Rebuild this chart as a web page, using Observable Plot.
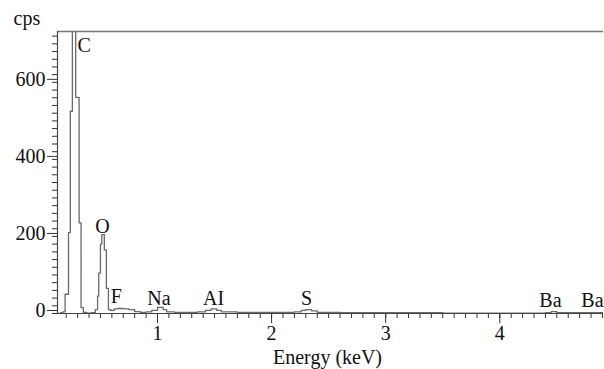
<!DOCTYPE html>
<html>
<head>
<meta charset="utf-8">
<script src="https://cdn.jsdelivr.net/npm/d3@7"></script>
<script src="https://cdn.jsdelivr.net/npm/@observablehq/plot@0.6"></script>
<style>
  html, body { margin: 0; padding: 0; background: #fff; }
  svg { display: block; }
</style>
</head>
<body>
<div id="chart"></div>
<script>
// Spectrum (bin left edge in keV, counts per second)
const energy = [0.12, 0.15, 0.17, 0.19, 0.22, 0.236, 0.254, 0.283, 0.313, 0.330, 0.350, 0.38, 0.42,
  0.455, 0.475, 0.485, 0.50, 0.512, 0.534, 0.552, 0.57, 0.59, 0.62, 0.65, 0.70, 0.75, 0.80, 0.85,
  0.90, 0.95, 1.00, 1.05, 1.08, 1.15, 1.25, 1.35, 1.42, 1.47, 1.52, 1.56, 1.7, 1.9, 2.1, 2.2,
  2.26, 2.30, 2.35, 2.40, 2.6, 3.0, 3.5, 4.0, 4.40, 4.45, 4.50, 4.92];
const cps = [0, 2, 4, 50, 210, 525, 1200, 561, 235, 15, 3, 1, 2,
  10, 45, 105, 180, 205, 165, 65, 10, 8, 12, 13, 12, 10, 5, 3,
  4, 8, 16, 10, 4, 3, 3, 4, 8, 12, 8, 4, 3, 3, 3, 4,
  8, 10, 7, 3, 2, 2, 1, 1, 2, 5, 2, 1];

// Peak labels
const peakLabels = ["C", "O", "F", "Na", "AI", "S", "Ba", "Ba"];
const peakLabelX = [0.299, 0.518, 0.640, 1.013, 1.491, 2.306, 4.444, 4.812];
const peakLabelY = [680, 208, 26, 23, 23, 23, 18, 18];
const peakAnchor = ["start", "middle", "middle", "middle", "middle", "middle", "middle", "middle"];

// Axes
const xTicks = [1, 2, 3, 4];
const yTicks = [0, 200, 400, 600];
const xMinor = d3.range(2, 50).map(d => d / 10);
const yMinor = d3.range(0, 37).map(d => d * 20);
const xDomain = [0.1236, 4.909];
const yDomain = [0, 732];

const spectrum = energy.map((e, i) => ({e, c: cps[i]}));
const labels = peakLabels.map((t, i) => ({t, x: peakLabelX[i], y: peakLabelY[i], a: peakAnchor[i]}));

const font = "'Liberation Serif', 'Times New Roman', serif";
const fs = 20;

const chart = Plot.plot({
  width: 604,
  height: 369,
  marginLeft: 57,
  marginRight: 1,
  marginTop: 31,
  marginBottom: 56,
  style: {fontFamily: font, fontSize: fs + "px", color: "#111", background: "#fff"},
  x: {domain: xDomain},
  y: {domain: yDomain},
  marks: [
    Plot.axisX({ticks: xMinor, tickSize: 5, tickFormat: () => "", stroke: "#333", label: null}),
    Plot.axisX({ticks: xTicks, tickSize: 10, tickPadding: 2, tickFormat: d3.format("d"), stroke: "#333", label: null, fontSize: fs}),
    Plot.axisY({ticks: yMinor, tickSize: 5, tickFormat: () => "", stroke: "#333", label: null}),
    Plot.axisY({ticks: yTicks, tickSize: 10, tickPadding: 2, tickFormat: d3.format("d"), dy: -3, stroke: "#333", label: null, fontSize: fs}),
    Plot.line(spectrum, {x: "e", y: "c", curve: "step-after", stroke: "#6a6a6a", strokeWidth: 1.3, clip: true}),
    Plot.ruleY([yDomain[1]], {stroke: "#777", strokeWidth: 1.3}),
    Plot.ruleY([0], {stroke: "#444", strokeWidth: 1.2}),
    Plot.ruleX([xDomain[0]], {stroke: "#444", strokeWidth: 1.2}),
    Plot.text(labels.filter(d => d.a === "start"), {x: "x", y: "y", text: "t", textAnchor: "start", lineAnchor: "bottom", fontSize: fs, fill: "#111"}),
    Plot.text(labels.filter(d => d.a === "middle"), {x: "x", y: "y", text: "t", textAnchor: "middle", lineAnchor: "bottom", fontSize: fs, fill: "#111"}),
    Plot.text(["cps"], {frameAnchor: "top-left", dx: -44, dy: -7, textAnchor: "start", lineAnchor: "bottom", fontSize: fs, fill: "#111"}),
    Plot.text(["Energy (keV)"], {frameAnchor: "bottom", dx: -3, dy: 50, lineAnchor: "bottom", fontSize: fs, fill: "#111"})
  ]
});
document.getElementById("chart").appendChild(chart);
</script>
</body>
</html>
